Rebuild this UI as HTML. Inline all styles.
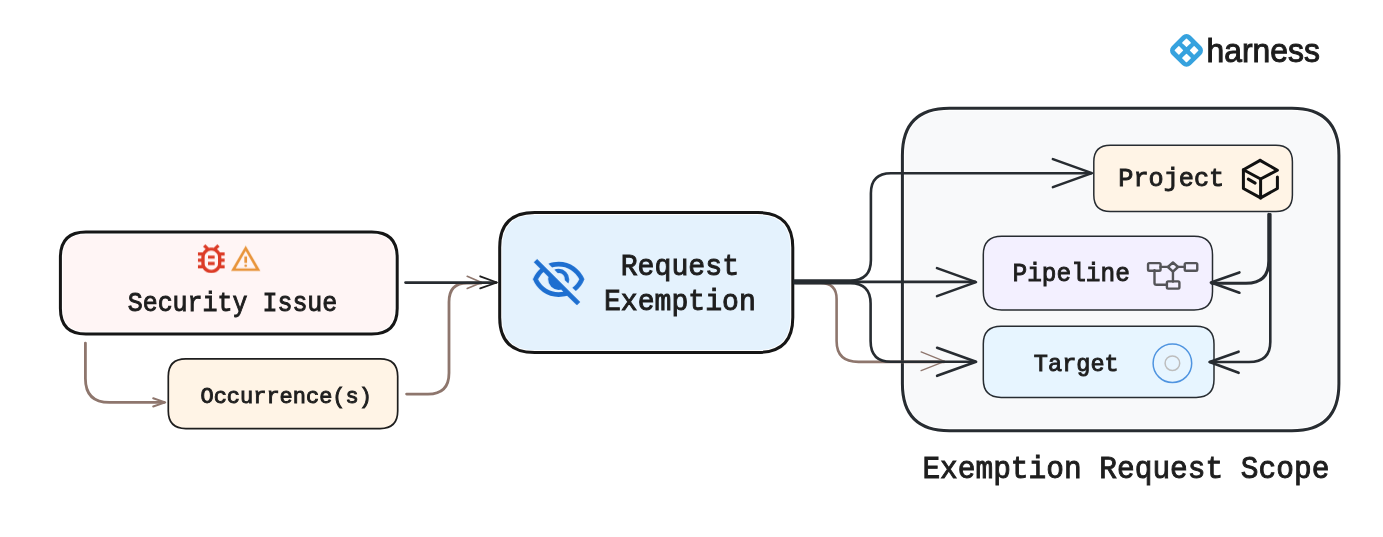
<!DOCTYPE html>
<html><head><meta charset="utf-8"><style>
html,body{margin:0;padding:0;background:#fff;}
svg{display:block;will-change:transform;}
</style></head><body>
<svg width="1383" height="537" viewBox="0 0 1383 537">
<path d="M949.40 108.20 L1291.90 108.20 Q1338.90 108.20 1338.90 155.20 L1338.90 383.70 Q1338.90 430.70 1291.90 430.70 L949.40 430.70 Q902.40 430.70 902.40 383.70 L902.40 155.20 Q902.40 108.20 949.40 108.20 Z" fill="#fff" stroke="#272c31" stroke-width="3"/><path d="M949.40 110.70 L1291.90 110.70 Q1336.40 110.70 1336.40 155.20 L1336.40 383.70 Q1336.40 428.20 1291.90 428.20 L949.40 428.20 Q904.90 428.20 904.90 383.70 L904.90 155.20 Q904.90 110.70 949.40 110.70 Z" fill="#f8f9fa"/>
<path d="M85.90 232.00 L371.70 232.00 Q397.20 232.00 397.20 257.50 L397.20 308.50 Q397.20 334.00 371.70 334.00 L85.90 334.00 Q60.40 334.00 60.40 308.50 L60.40 257.50 Q60.40 232.00 85.90 232.00 Z" fill="#fff" stroke="#161616" stroke-width="3"/><path d="M85.90 234.50 L371.70 234.50 Q394.70 234.50 394.70 257.50 L394.70 308.50 Q394.70 331.50 371.70 331.50 L85.90 331.50 Q62.90 331.50 62.90 308.50 L62.90 257.50 Q62.90 234.50 85.90 234.50 Z" fill="#fff5f5"/>
<path d="M185.80 358.80 L380.20 358.80 Q397.70 358.80 397.70 376.30 L397.70 411.10 Q397.70 428.60 380.20 428.60 L185.80 428.60 Q168.30 428.60 168.30 411.10 L168.30 376.30 Q168.30 358.80 185.80 358.80 Z" fill="#fff4e6" stroke="#1e1e1e" stroke-width="1.7"/>
<path d="M534.70 212.50 L757.80 212.50 Q792.80 212.50 792.80 247.50 L792.80 317.50 Q792.80 352.50 757.80 352.50 L534.70 352.50 Q499.70 352.50 499.70 317.50 L499.70 247.50 Q499.70 212.50 534.70 212.50 Z" fill="#fff" stroke="#161616" stroke-width="3"/><path d="M534.70 215.00 L757.80 215.00 Q790.30 215.00 790.30 247.50 L790.30 317.50 Q790.30 350.00 757.80 350.00 L534.70 350.00 Q502.20 350.00 502.20 317.50 L502.20 247.50 Q502.20 215.00 534.70 215.00 Z" fill="#e4f2fd"/>
<path d="M1110.30 145.30 L1275.90 145.30 Q1292.40 145.30 1292.40 161.80 L1292.40 194.90 Q1292.40 211.40 1275.90 211.40 L1110.30 211.40 Q1093.80 211.40 1093.80 194.90 L1093.80 161.80 Q1093.80 145.30 1110.30 145.30 Z" fill="#fff4e6" stroke="#272c31" stroke-width="1.5"/>
<path d="M1001.70 236.30 L1194.10 236.30 Q1212.50 236.30 1212.50 254.70 L1212.50 291.60 Q1212.50 310.00 1194.10 310.00 L1001.70 310.00 Q983.30 310.00 983.30 291.60 L983.30 254.70 Q983.30 236.30 1001.70 236.30 Z" fill="#f3f0ff" stroke="#272c31" stroke-width="1.5"/>
<path d="M1001.10 326.30 L1196.20 326.30 Q1214.00 326.30 1214.00 344.10 L1214.00 379.60 Q1214.00 397.40 1196.20 397.40 L1001.10 397.40 Q983.30 397.40 983.30 379.60 L983.30 344.10 Q983.30 326.30 1001.10 326.30 Z" fill="#e7f5ff" stroke="#272c31" stroke-width="1.5"/>
<path d="M85.4 343.1 V378.4 Q85.4 402.4 109.4 402.4 H164" fill="none" stroke="#8e766d" stroke-width="2.8" stroke-linecap="round"/>
<path d="M153.2 398.3 L165.2 402.4 L153.2 406.5" fill="none" stroke="#8e766d" stroke-width="2" stroke-linecap="round" stroke-linejoin="round"/>
<path d="M406.6 394.1 H428 Q449 394.1 449 373 V302 Q449 283.2 467 283.2 H481" fill="none" stroke="#8e766d" stroke-width="2.8" stroke-linecap="round"/>
<path d="M467.2 276.3 L481.6 282.5 L467.2 288.4" fill="none" stroke="#8e766d" stroke-width="1.6" stroke-linecap="round" stroke-linejoin="round"/>
<path d="M796 283 H820.5 Q836.6 283 836.6 299 V341 Q836.6 361.9 858.5 361.9 H944" fill="none" stroke="#8e766d" stroke-width="2.6" stroke-linecap="round"/>
<path d="M921.1 351.9 L944.6 361.3 L921.1 370.7" fill="none" stroke="#8e766d" stroke-width="1.3" stroke-linecap="round" stroke-linejoin="round"/>
<path d="M405.5 282.6 H496" fill="none" stroke="#272c31" stroke-width="2.6" stroke-linecap="round"/>
<path d="M480.2 276.3 L497 282.5 L480.2 288.4" fill="none" stroke="#1e1e1e" stroke-width="1.8" stroke-linecap="round" stroke-linejoin="round"/>
<path d="M794.5 281.9 H975" fill="none" stroke="#272c31" stroke-width="2.6" stroke-linecap="round"/>
<path d="M794.5 280.5 H850.5 Q870.9 280.5 870.9 260 V193.2 Q870.9 173.2 891 173.2 H1091" fill="none" stroke="#272c31" stroke-width="2.6" stroke-linecap="round"/>
<path d="M794.5 283.2 H850.5 Q870.6 283.2 870.6 303.5 V341 Q870.6 361.8 891 361.8 H975" fill="none" stroke="#272c31" stroke-width="2.6" stroke-linecap="round"/>
<path d="M1052.9 159.1 L1091.9 173.1 L1052.9 187.1" fill="none" stroke="#272c31" stroke-width="2.6" stroke-linecap="round" stroke-linejoin="round"/>
<path d="M937.0 268.1 L976 282.1 L937.0 296.1" fill="none" stroke="#272c31" stroke-width="2.6" stroke-linecap="round" stroke-linejoin="round"/>
<path d="M937.1 347.8 L976.1 361.8 L937.1 375.8" fill="none" stroke="#272c31" stroke-width="2.6" stroke-linecap="round" stroke-linejoin="round"/>
<path d="M1268.8 214.2 V261 Q1268.8 283.3 1246 283.3 H1212" fill="none" stroke="#272c31" stroke-width="3.1" stroke-linecap="round"/>
<path d="M1270.3 214.2 V342 Q1270.3 362 1249 362 H1210" fill="none" stroke="#272c31" stroke-width="2.6" stroke-linecap="round"/>
<path d="M1239.4 272.4 L1210.9 282.5 L1239.4 292.7" fill="none" stroke="#272c31" stroke-width="2.6" stroke-linecap="round" stroke-linejoin="round"/>
<path d="M1238.6 351.7 L1209.6 362 L1238.6 372.8" fill="none" stroke="#272c31" stroke-width="2.6" stroke-linecap="round" stroke-linejoin="round"/>
<svg x="191.3" y="239.6" width="40" height="38.2" viewBox="0 0 24 24" preserveAspectRatio="none"><path d="M20 8h-2.81c-.45-.78-1.07-1.45-1.82-1.96L17 4.41 15.59 3l-2.17 2.170C12.96 5.06 12.49 5 12 5s-.96.06-1.41.17L8.41 3 7 4.41l1.62 1.63C7.88 6.55 7.26 7.22 6.81 8H4v2h2.09c-.05.33-.09.66-.09 1v1H4v2h2v1c0 .34.04.67.09 1H4v2h2.81c1.04 1.790 2.970 3 5.190 3s4.15-1.21 5.19-3H20v-2h-2.09c.05-.33.09-.66.09-1v-1h2v-2h-2v-1c0-.34-.04-.67-.09-1H20V8zm-4 4v3c0 .22-.03.47-.07.7l-.1.65-.37.65c-.72 1.24-2.04 2-3.46 2s-2.74-.77-3.46-2l-.37-.64-.1-.65C8.03 15.47 8 15.22 8 15v-4c0-.23.03-.48.07-.7l.1-.65.37-.65c.3-.52.72-.97 1.21-1.310l.57-.39.74-.18c.31-.08.63-.12.94-.12.32 0 .63.04.95.12l.68.16.61.42c.5.34.91.78 1.21 1.31l.38.65.1.65c.04.22.07.47.07.69v1zm-6 2h4v2h-4zm0-4h4v2h-4z" fill="#dc3b26"/></svg>
<svg x="229.7" y="243" width="32" height="32" viewBox="0 -960 960 960"><path d="m40-120 440-760 440 760H40Zm138-80h604L480-720 178-200Zm302-40q17 0 28.5-11.5T520-280q0-17-11.5-28.5T480-320q-17 0-28.5 11.5T440-280q0 17 11.5 28.5T480-240Zm-40-120h80v-200h-80v200Zm40-100Z" fill="#e8943a"/></svg>
<svg x="530.5" y="252.4" width="56.2" height="56.2" viewBox="0 -960 960 960"><path d="m644-428-58-58q9-47-27-88t-93-32l-58-58q17-8 34.5-12t37.5-4q75 0 127.5 52.5T660-500q0 20-4 37.5T644-428Zm128 126-58-56q38-29 67.5-63.5T832-500q-50-101-143.5-160.5T480-720q-29 0-57 4t-55 12l-62-62q41-17 84-25.5t90-8.5q151 0 269 83.5T920-500q-23 59-60.5 109.5T772-302Zm20 246L624-222q-35 11-70.5 16.5T480-200q-151 0-269-83.5T40-500q21-53 53-98.5t73-81.5L56-792l56-56 736 736-56 56ZM222-624q-29 26-53 57t-41 67q50 101 143.5 160.5T480-280q20 0 39-2.5t39-5.5l-36-38q-11 3-21 4.5t-21 1.5q-75 0-127.5-52.5T300-500q0-11 1.5-21t4.5-21l-84-82Zm319 93Zm-151 75Z" fill="#1e6fd0"/></svg>
<g fill="none" stroke="#111" stroke-width="3" stroke-linecap="round" stroke-linejoin="round"><path d="M1260.1 160.4 L1243.4 169.8 L1243.4 188.5 L1260.6 197.9 L1277.4 188.5 L1277.4 177"/><path d="M1243.4 169.8 L1260.6 179.0 L1277.4 170.2 L1260.1 160.4"/><path d="M1260.6 179.0 L1260.6 197.9"/><path d="M1248.3 179.1 L1255.2 183.1"/></g>
<g fill="none" stroke="#545458" stroke-width="2.4" stroke-linecap="round" stroke-linejoin="round"><rect x="1148.05" y="263.1" width="12.5" height="7.6" rx="1.3"/><rect x="1184.75" y="263.1" width="12.5" height="7.6" rx="1.3"/><rect x="1166.9" y="281.4" width="12.5" height="7.2" rx="1.3"/><path d="M1172.95 262.4 L1178 267.0 L1172.95 271.7 L1167.9 267.0 Z"/><path d="M1160.55 266.9 H1167.9 M1178 266.9 H1184.75 M1172.95 271.7 V281.5"/><path d="M1154.5 270.3 V283 Q1154.5 284.8 1156.5 284.8 H1166.9"/></g>
<circle cx="1172.4" cy="363.2" r="19.3" fill="none" stroke="#4f94e0" stroke-width="1.5"/>
<circle cx="1172.4" cy="363.2" r="7.3" fill="none" stroke="#bdbdbd" stroke-width="1.5"/>
<g transform="translate(1186.5 50.4) rotate(45)"><rect x="-13.4" y="-13.4" width="26.8" height="26.8" rx="6" fill="#36a2de"/><rect x="-8.60" y="-8.60" width="6.4" height="6.4" rx="0.6" fill="#fff"/><rect x="-8.60" y="2.20" width="6.4" height="6.4" rx="0.6" fill="#fff"/><rect x="2.20" y="-8.60" width="6.4" height="6.4" rx="0.6" fill="#fff"/><rect x="2.20" y="2.20" width="6.4" height="6.4" rx="0.6" fill="#fff"/></g>
<text x="1206.6" y="61.8" font-family="&quot;Liberation Sans&quot;, sans-serif" font-size="32.4" fill="#1c1c1c" stroke="#1c1c1c" stroke-width="1.0" textLength="113.2" lengthAdjust="spacingAndGlyphs">harness</text>
<text x="127.71" y="310.8" font-family="&quot;Liberation Mono&quot;, monospace" font-size="27.6" font-weight="normal" fill="#1e1e1e" textLength="209.59" lengthAdjust="spacingAndGlyphs" stroke="#1e1e1e" stroke-width="0.95">Security Issue</text>
<text x="200.5" y="403.4" font-family="&quot;Liberation Mono&quot;, monospace" font-size="22.5" font-weight="normal" fill="#1e1e1e" textLength="171.37" lengthAdjust="spacingAndGlyphs" stroke="#1e1e1e" stroke-width="0.95">Occurrence(s)</text>
<text x="620.7" y="275.4" font-family="&quot;Liberation Mono&quot;, monospace" font-size="28.9" font-weight="normal" fill="#1e1e1e" textLength="118.36" lengthAdjust="spacingAndGlyphs" stroke="#1e1e1e" stroke-width="0.95">Request</text>
<text x="603.99" y="310.1" font-family="&quot;Liberation Mono&quot;, monospace" font-size="29.0" font-weight="normal" fill="#1e1e1e" textLength="151.81" lengthAdjust="spacingAndGlyphs" stroke="#1e1e1e" stroke-width="0.95">Exemption</text>
<text x="1118.25" y="186.0" font-family="&quot;Liberation Mono&quot;, monospace" font-size="26.4" font-weight="normal" fill="#1e1e1e" textLength="105.93" lengthAdjust="spacingAndGlyphs" stroke="#1e1e1e" stroke-width="0.95">Project</text>
<text x="1012.5" y="280.9" font-family="&quot;Liberation Mono&quot;, monospace" font-size="26.6" font-weight="normal" fill="#1e1e1e" textLength="117.32" lengthAdjust="spacingAndGlyphs" stroke="#1e1e1e" stroke-width="0.95">Pipeline</text>
<text x="1033.87" y="371.2" font-family="&quot;Liberation Mono&quot;, monospace" font-size="24.0" font-weight="normal" fill="#1e1e1e" textLength="84.84" lengthAdjust="spacingAndGlyphs" stroke="#1e1e1e" stroke-width="0.95">Target</text>
<text x="922.38" y="477.7" font-family="&quot;Liberation Mono&quot;, monospace" font-size="30.8" font-weight="normal" fill="#1e1e1e" textLength="406.97" lengthAdjust="spacingAndGlyphs" stroke="#1e1e1e" stroke-width="0.95">Exemption Request Scope</text>
</svg>
</body></html>
